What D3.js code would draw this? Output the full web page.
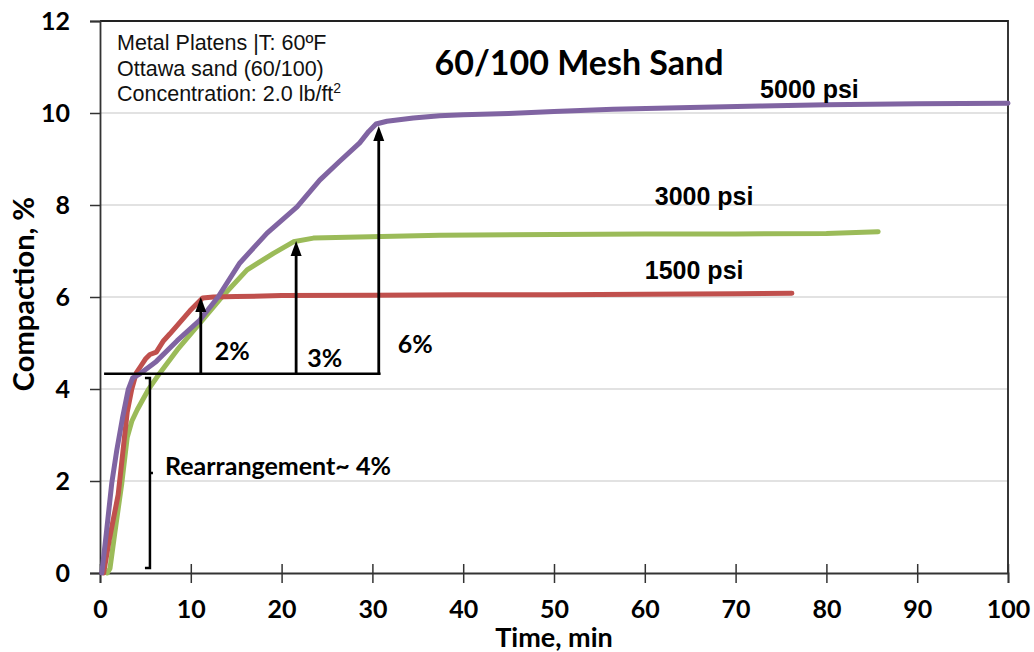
<!DOCTYPE html>
<html>
<head>
<meta charset="utf-8">
<script src="https://cdn.jsdelivr.net/npm/d3@7"></script>
<style>
  html, body { margin: 0; padding: 0; background: #fff; }
  svg { display: block; }
</style>
</head>
<body>
<svg id="chart" width="1034" height="652"></svg>
<script>
// Compaction (%) versus time (min) for 60/100 mesh Ottawa sand at three closure stresses
const series = ["1500 psi", "3000 psi", "5000 psi"];
const seriesColors = ["#C0504D", "#9BBB59", "#8064A2"];

const time1500 = [0.4, 1.0, 1.5, 2.0, 2.5, 3.0, 3.5, 4.0, 4.5, 5.0, 5.5, 6.2, 7.0, 7.7, 8.8, 9.9, 11.3, 12.5, 15, 20, 30, 40, 50, 60, 70, 76.2];
const comp1500 = [0, 0.7, 1.2, 1.7, 2.6, 3.5, 4.0, 4.35, 4.5, 4.65, 4.75, 4.8, 5.05, 5.2, 5.45, 5.7, 5.98, 6.0, 6.01, 6.03, 6.04, 6.05, 6.05, 6.06, 6.07, 6.08];

const time3000 = [0.8, 1.1, 1.65, 2.4, 3.0, 3.5, 4.1, 5.3, 6.6, 8.5, 11, 13.2, 16.2, 19.1, 21.3, 23.5, 27.2, 37.4, 50, 60, 70, 80, 85.7];
const comp3000 = [0, 0.1, 0.9, 1.95, 2.95, 3.3, 3.55, 3.98, 4.35, 4.85, 5.43, 5.95, 6.59, 6.95, 7.2, 7.28, 7.3, 7.34, 7.36, 7.37, 7.37, 7.38, 7.42];

const time5000 = [0.2, 0.7, 1.3, 1.85, 2.5, 3.1, 3.6, 4.4, 6.2, 8.5, 11, 13, 15.4, 18.4, 21.7, 24.2, 26.4, 28.6, 29.6, 30.4, 31.6, 34.5, 37.4, 40, 45, 50, 56.5, 65, 72.7, 80, 90, 100];
const comp5000 = [0, 0.87, 1.96, 2.67, 3.39, 3.98, 4.24, 4.33, 4.6, 5.05, 5.5, 6.0, 6.74, 7.39, 7.96, 8.54, 8.95, 9.35, 9.6, 9.76, 9.82, 9.89, 9.94, 9.96, 9.99, 10.03, 10.08, 10.12, 10.15, 10.18, 10.2, 10.21];

const xTicks = [0, 10, 20, 30, 40, 50, 60, 70, 80, 90, 100];
const yTicks = [0, 2, 4, 6, 8, 10, 12];

// Annotation values: rearrangement level, and the compaction reached at each plateau onset
const rearrangeLevel = 4.33;
const arrowTimes = [11.1, 21.6, 30.7];
const arrowTops = [6.0, 7.22, 9.72];
const arrowLabels = ["2%", "3%", "6%"];
const bracketTime = 5.5;
const bracketRange = [0.11, 4.24];

const infoLines = ["Metal Platens |T: 60ºF", "Ottawa sand (60/100)", "Concentration: 2.0 lb/ft"];

const svg = d3.select("#chart");
const x = d3.scaleLinear().domain([0, 100]).range([100, 1008]);
const y = d3.scaleLinear().domain([0, 12]).range([573, 21]);

const tickFont = "Lato, 'Open Sans', sans-serif";
const arialFont = "'Liberation Sans', Arial, sans-serif";

// horizontal gridlines
svg.append("g")
  .selectAll("line")
  .data(yTicks.filter(d => d > 0 && d < 12))
  .join("line")
  .attr("x1", x(0)).attr("x2", x(100))
  .attr("y1", d => y(d)).attr("y2", d => y(d))
  .attr("stroke", "#d9d9d9").attr("stroke-width", 1.5);

// plot frame (top and right)
svg.append("path")
  .attr("d", `M${x(0)},${y(12)}H${x(100)}V${y(0)}`)
  .attr("fill", "none").attr("stroke", "#222").attr("stroke-width", 1.8);

// y axis
const yAxis = d3.axisLeft(y).tickValues(yTicks).tickSize(10).tickPadding(20).tickFormat(d3.format("d"));
const gy = svg.append("g").attr("transform", `translate(${x(0)},0)`).call(yAxis);
gy.select(".domain").attr("stroke", "#333").attr("stroke-width", 1.8);
gy.selectAll(".tick line").attr("stroke", "#333").attr("stroke-width", 1.5);
gy.selectAll(".tick text")
  .attr("font-family", tickFont).attr("font-weight", "bold").attr("font-size", 25).attr("fill", "#000");

// x axis: ticks cross the axis line
const xAxis = d3.axisBottom(x).tickValues(xTicks).tickSize(10).tickPadding(17).tickFormat(d3.format("d"));
const gx = svg.append("g").attr("transform", `translate(0,${y(0)})`).call(xAxis);
gx.select(".domain").attr("stroke", "#333").attr("stroke-width", 1.8);
gx.selectAll(".tick line").attr("stroke", "#333").attr("stroke-width", 1.5).attr("y1", -9);
gx.selectAll(".tick text")
  .attr("font-family", tickFont).attr("font-weight", "bold").attr("font-size", 25).attr("fill", "#000");

// axis titles
svg.append("text")
  .attr("x", x(50)).attr("y", 647)
  .attr("text-anchor", "middle")
  .attr("font-family", tickFont).attr("font-weight", "bold").attr("font-size", 27)
  .text("Time, min");

svg.append("text")
  .attr("transform", "translate(34,294) rotate(-90)")
  .attr("text-anchor", "middle")
  .attr("font-family", tickFont).attr("font-weight", "bold").attr("font-size", 29)
  .text("Compaction, %");

// chart title
svg.append("text")
  .attr("x", 579).attr("y", 75)
  .attr("text-anchor", "middle")
  .attr("font-family", tickFont).attr("font-weight", "bold").attr("font-size", 34)
  .text("60/100 Mesh Sand");

// test conditions
const info = svg.append("g").attr("font-family", arialFont).attr("font-size", 21.5).attr("fill", "#111");
infoLines.forEach((t, i) => {
  const tx = info.append("text").attr("x", 117).attr("y", 50 + i * 25.5).text(t);
  if (i === infoLines.length - 1) {
    tx.append("tspan").attr("font-size", 14).attr("dy", -8).text("2");
  }
});

// compaction curves
const line = d3.line().x(d => x(d[0])).y(d => y(d[1]));
const curves = [
  d3.zip(time1500, comp1500),
  d3.zip(time3000, comp3000),
  d3.zip(time5000, comp5000)
];
const drawOrder = [1, 0, 2];
drawOrder.forEach(i => {
  svg.append("path")
    .datum(curves[i])
    .attr("d", line)
    .attr("fill", "none")
    .attr("stroke", seriesColors[i])
    .attr("stroke-width", 5)
    .attr("stroke-linecap", "round")
    .attr("stroke-linejoin", "round");
});

// series labels
const labelAnchors = [[60, 6.08, -14], [61.1, 7.37, -29], [72.7, 10.2, -6]];
labelAnchors.forEach((a, i) => {
  svg.append("text")
    .attr("x", x(a[0])).attr("y", y(a[1]) + a[2])
    .attr("font-family", arialFont).attr("font-weight", "bold").attr("font-size", 25)
    .text(series[i]);
});

// annotations
const ann = svg.append("g").attr("stroke", "#000").attr("fill", "none");
ann.append("line")
  .attr("x1", x(0.45)).attr("x2", x(30.9))
  .attr("y1", y(rearrangeLevel)).attr("y2", y(rearrangeLevel))
  .attr("stroke-width", 2.5);

arrowTimes.forEach((t, i) => {
  const ax = x(t), y0 = y(rearrangeLevel), y1 = y(arrowTops[i]);
  ann.append("line").attr("x1", ax).attr("x2", ax).attr("y1", y0).attr("y2", y1 + 12).attr("stroke-width", 2.8);
  svg.append("path")
    .attr("d", `M${ax},${y1}L${ax - 5.5},${y1 + 15}L${ax + 5.5},${y1 + 15}Z`)
    .attr("fill", "#000");
});

const labelOffsets = [[14, -14], [11, -7], [19, -21]];
arrowLabels.forEach((l, i) => {
  svg.append("text")
    .attr("x", x(arrowTimes[i]) + labelOffsets[i][0])
    .attr("y", y(rearrangeLevel) + labelOffsets[i][1])
    .attr("font-family", tickFont).attr("font-weight", "bold").attr("font-size", 25)
    .text(l);
});

// rearrangement bracket
const bx = x(bracketTime), bTop = y(bracketRange[1]), bBot = y(bracketRange[0]);
const bMid = (bTop + bBot) / 2;
ann.append("path")
  .attr("d", `M${bx - 5},${bTop}H${bx}V${bBot}H${bx - 5}M${bx},${bMid}H${bx + 3}`)
  .attr("stroke-width", 2.5);

svg.append("text")
  .attr("x", bx + 15).attr("y", bMid + 2)
  .attr("font-family", tickFont).attr("font-weight", "bold").attr("font-size", 25)
  .text("Rearrangement~ 4%");
</script>
</body>
</html>
